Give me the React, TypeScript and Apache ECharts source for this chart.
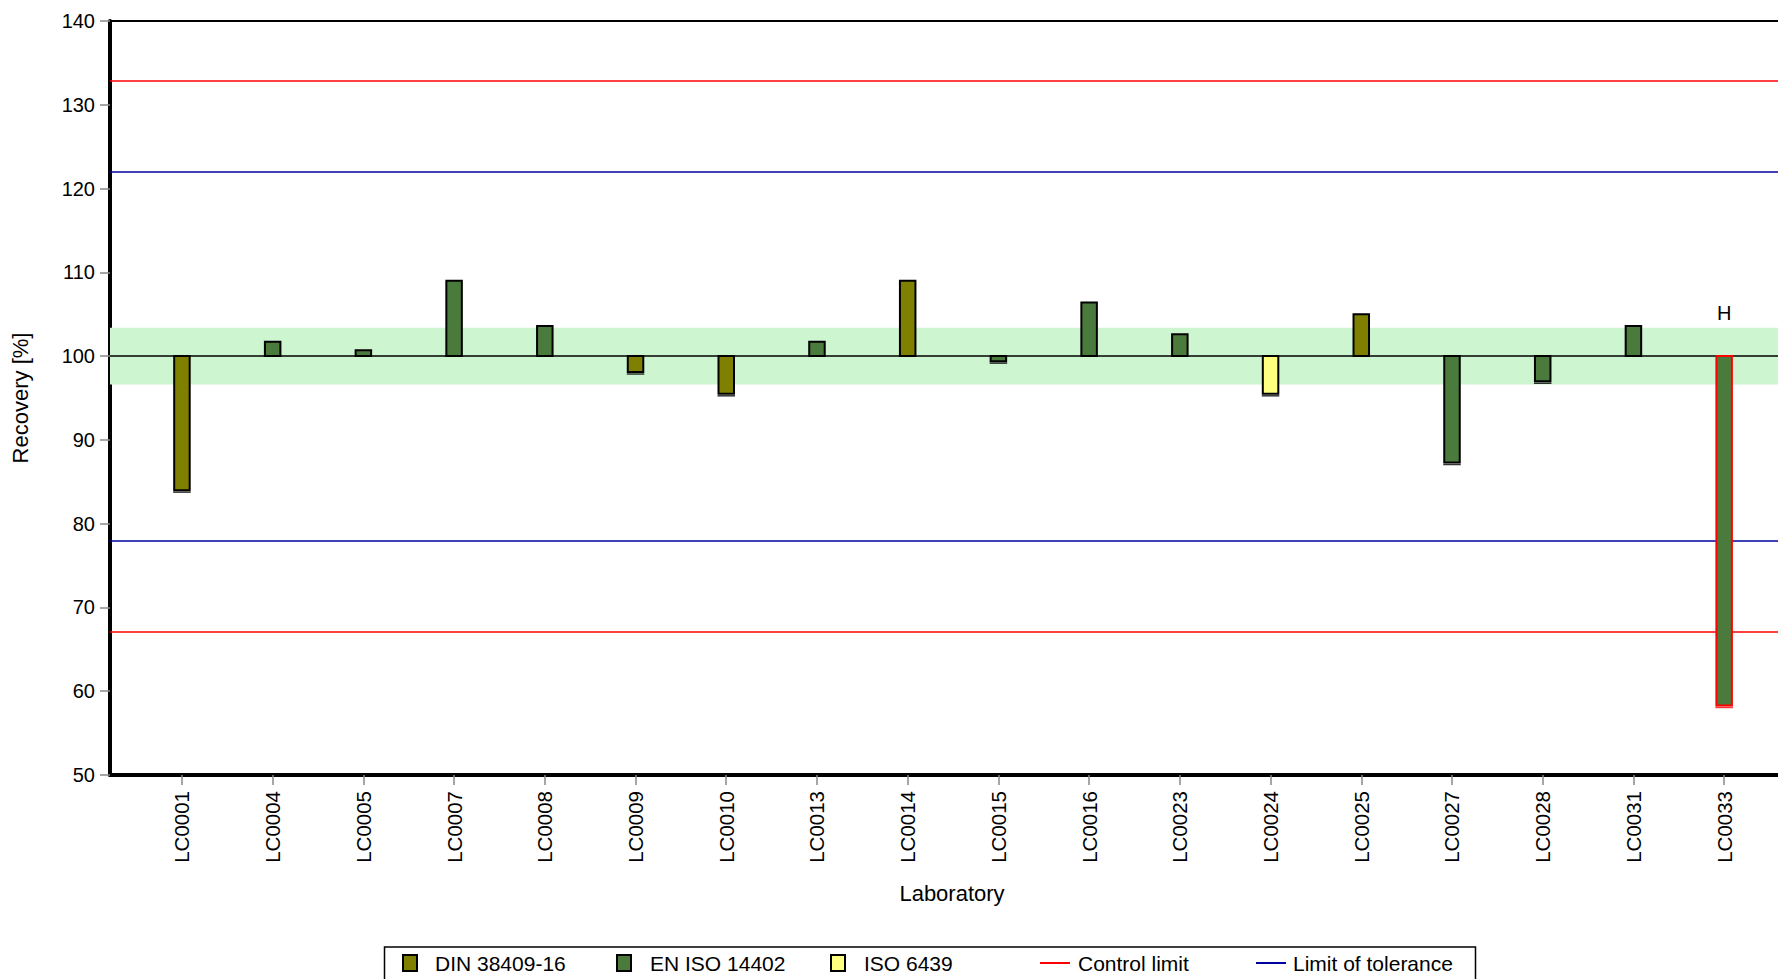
import React, { useEffect, useRef } from "react";
import * as echarts from "echarts";

// ---------- data ----------
const labs = [
  "LC0001", "LC0004", "LC0005", "LC0007", "LC0008", "LC0009", "LC0010", "LC0013", "LC0014",
  "LC0015", "LC0016", "LC0023", "LC0024", "LC0025", "LC0027", "LC0028", "LC0031", "LC0033",
];
const recovery = [
  84.0, 101.7, 100.7, 109.0, 103.6, 98.1, 95.5, 101.7, 109.0,
  99.4, 106.4, 102.6, 95.5, 105.0, 87.3, 97.0, 103.6, 58.3,
];
const labMethod = [
  "DIN 38409-16", "EN ISO 14402", "EN ISO 14402", "EN ISO 14402", "EN ISO 14402", "DIN 38409-16",
  "DIN 38409-16", "EN ISO 14402", "DIN 38409-16", "EN ISO 14402", "EN ISO 14402", "EN ISO 14402",
  "ISO 6439", "DIN 38409-16", "EN ISO 14402", "EN ISO 14402", "EN ISO 14402", "EN ISO 14402",
];
const flags = ["", "", "", "", "", "", "", "", "", "", "", "", "", "", "", "", "", "H"];
const methodNames = ["DIN 38409-16", "EN ISO 14402", "ISO 6439"];
const methodColors = ["#808000", "#4b7b3c", "#ffff80"];
const assignedValue = 100;
const targetBand = [96.6, 103.4];
const controlLimits = [67.1, 132.9];
const toleranceLimits = [78, 122];
const yMin = 50;
const yMax = 140;
const yStep = 10;
const limitNames = ["Control limit", "Limit of tolerance"];
const limitColors = ["#ff0000", "#0000a0"];
const xAxisName = "Laboratory";
const yAxisName = "Recovery [%]";

const FONT = "'Liberation Sans', Arial, sans-serif";

export default function App() {
  const ref = useRef<HTMLDivElement>(null);

  useEffect(() => {
    if (!ref.current) return;
    const chart = echarts.init(ref.current, undefined, { renderer: "svg" });

    const barW = 15.5;
    const methodSeries = methodNames.map((m, mi) => {
      const items = labs
        .map((_, i) => ({ i, v: recovery[i], flag: flags[i], m: labMethod[i] }))
        .filter((d) => d.m === m);
      return {
        name: m,
        type: "custom",
        z: 5,
        data: items.map((d) => [d.i, d.v]),
        renderItem: (params: any, api: any) => {
          const d = items[params.dataIndex];
          const p0 = api.coord([api.value(0), assignedValue]);
          const p1 = api.coord([api.value(0), api.value(1)]);
          const top = Math.min(p0[1], p1[1]);
          const h = Math.abs(p1[1] - p0[1]);
          const outlier = d.flag !== "";
          const stroke = outlier ? "#ff0000" : "#000000";
          const neg = api.value(1) < assignedValue;
          const children: any[] = [
            {
              type: "rect",
              shape: { x: p0[0] - barW / 2, y: top, width: barW, height: Math.max(h, 1) },
              style: { fill: methodColors[mi], stroke, lineWidth: 2 },
            },
          ];
          if (neg) {
            children.push({
              type: "line",
              shape: { x1: p0[0] - barW / 2 - 1, y1: p1[1] + 2, x2: p0[0] + barW / 2 + 1, y2: p1[1] + 2 },
              style: { stroke, lineWidth: 1.5, opacity: 0.8 },
            });
          }
          if (outlier) {
            children.push({
              type: "text",
              style: {
                text: d.flag,
                x: p0[0],
                y: p0[1] - 43,
                align: "center",
                verticalAlign: "middle",
                fill: "#000",
                font: `20px ${FONT}`,
              },
            });
          }
          return { type: "group", children };
        },
      };
    });

    const legendX = {
      box: 384.5,
      boxW: 1091,
      sq: [403, 617, 831],
      line: [1040, 1256],
      text: [435, 650, 864, 1078, 1293],
    };
    const legendTop = 947;
    const legendY = 963;
    const legendGraphics: any[] = [
      {
        type: "rect",
        shape: { x: legendX.box, y: legendTop, width: legendX.boxW, height: 60 },
        style: { fill: "#fff", stroke: "#000", lineWidth: 1.5 },
      },
    ];
    methodNames.forEach((m, i) => {
      legendGraphics.push({
        type: "rect",
        shape: { x: legendX.sq[i], y: legendY - 8, width: 14, height: 16 },
        style: { fill: methodColors[i], stroke: "#000", lineWidth: 2 },
      });
      legendGraphics.push({
        type: "text",
        style: {
          text: m, x: legendX.text[i], y: legendY, verticalAlign: "middle",
          font: `21px ${FONT}`, fill: "#000",
        },
      });
    });
    limitNames.forEach((n, i) => {
      legendGraphics.push({
        type: "line",
        shape: { x1: legendX.line[i], y1: legendY, x2: legendX.line[i] + 30, y2: legendY },
        style: { stroke: limitColors[i], lineWidth: 2 },
      });
      legendGraphics.push({
        type: "text",
        style: {
          text: n, x: legendX.text[3 + i], y: legendY, verticalAlign: "middle",
          font: `21px ${FONT}`, fill: "#000",
        },
      });
    });

    const tickVals = labs.map((_, i) => i);

    chart.setOption({
      animation: false,
      textStyle: { fontFamily: FONT },
      grid: {
        left: 110, top: 21, right: -16, bottom: 204,
        outerBoundsMode: "none",
        containLabel: false,
        show: true, borderColor: "#000", borderWidth: 2, backgroundColor: "transparent",
      },
      xAxis: {
        type: "value",
        min: -0.793,
        max: 17.77,
        name: xAxisName,
        nameLocation: "middle",
        nameGap: 107,
        nameTextStyle: { fontSize: 22, color: "#000", fontFamily: FONT },
        axisLine: { show: true, onZero: false, lineStyle: { color: "#000", width: 4 } },
        axisTick: { show: true, customValues: tickVals, length: 10, lineStyle: { color: "#888", width: 1.5 } },
        axisLabel: {
          customValues: tickVals,
          formatter: (v: number) => labs[Math.round(v)] ?? "",
          rotate: 90,
          margin: 16,
          fontSize: 20.5,
          color: "#000",
          fontFamily: FONT,
        },
        splitLine: { show: false },
      },
      yAxis: {
        type: "value",
        min: yMin,
        max: yMax,
        interval: yStep,
        name: yAxisName,
        nameLocation: "middle",
        nameGap: 79,
        nameRotate: 90,
        nameTextStyle: { fontSize: 22, color: "#000", fontFamily: FONT },
        axisLine: { show: true, onZero: false, lineStyle: { color: "#000", width: 4 } },
        axisTick: { show: true, length: 10, lineStyle: { color: "#888", width: 1.5 } },
        axisLabel: { fontSize: 20, margin: 15, color: "#000", fontFamily: FONT },
        splitLine: { show: false },
      },
      series: [
        {
          name: "band",
          type: "line",
          data: [],
          z: 1,
          silent: true,
          markArea: {
            silent: true,
            itemStyle: { color: "#cdf5d0" },
            data: [[{ yAxis: targetBand[0] }, { yAxis: targetBand[1] }]],
          },
          markLine: {
            silent: true,
            symbol: "none",
            label: { show: false },
            lineStyle: { color: "#000", width: 1.5, type: "solid" },
            data: [{ yAxis: assignedValue }],
          },
        },
        {
          name: limitNames[0],
          type: "line",
          data: [],
          z: 2,
          markLine: {
            silent: true,
            symbol: "none",
            label: { show: false },
            lineStyle: { color: limitColors[0], width: 1.5, type: "solid" },
            data: controlLimits.map((v) => ({ yAxis: v })),
          },
        },
        {
          name: limitNames[1],
          type: "line",
          data: [],
          z: 2,
          markLine: {
            silent: true,
            symbol: "none",
            label: { show: false },
            lineStyle: { color: limitColors[1], width: 1.5, type: "solid" },
            data: toleranceLimits.map((v) => ({ yAxis: v })),
          },
        },
        ...methodSeries,
      ],
      graphic: legendGraphics,
    });

    return () => chart.dispose();
  }, []);

  return (
    <div
      ref={ref}
      style={{ position: "fixed", left: 0, top: 0, width: 1778, height: 979, background: "#fff" }}
    />
  );
}
